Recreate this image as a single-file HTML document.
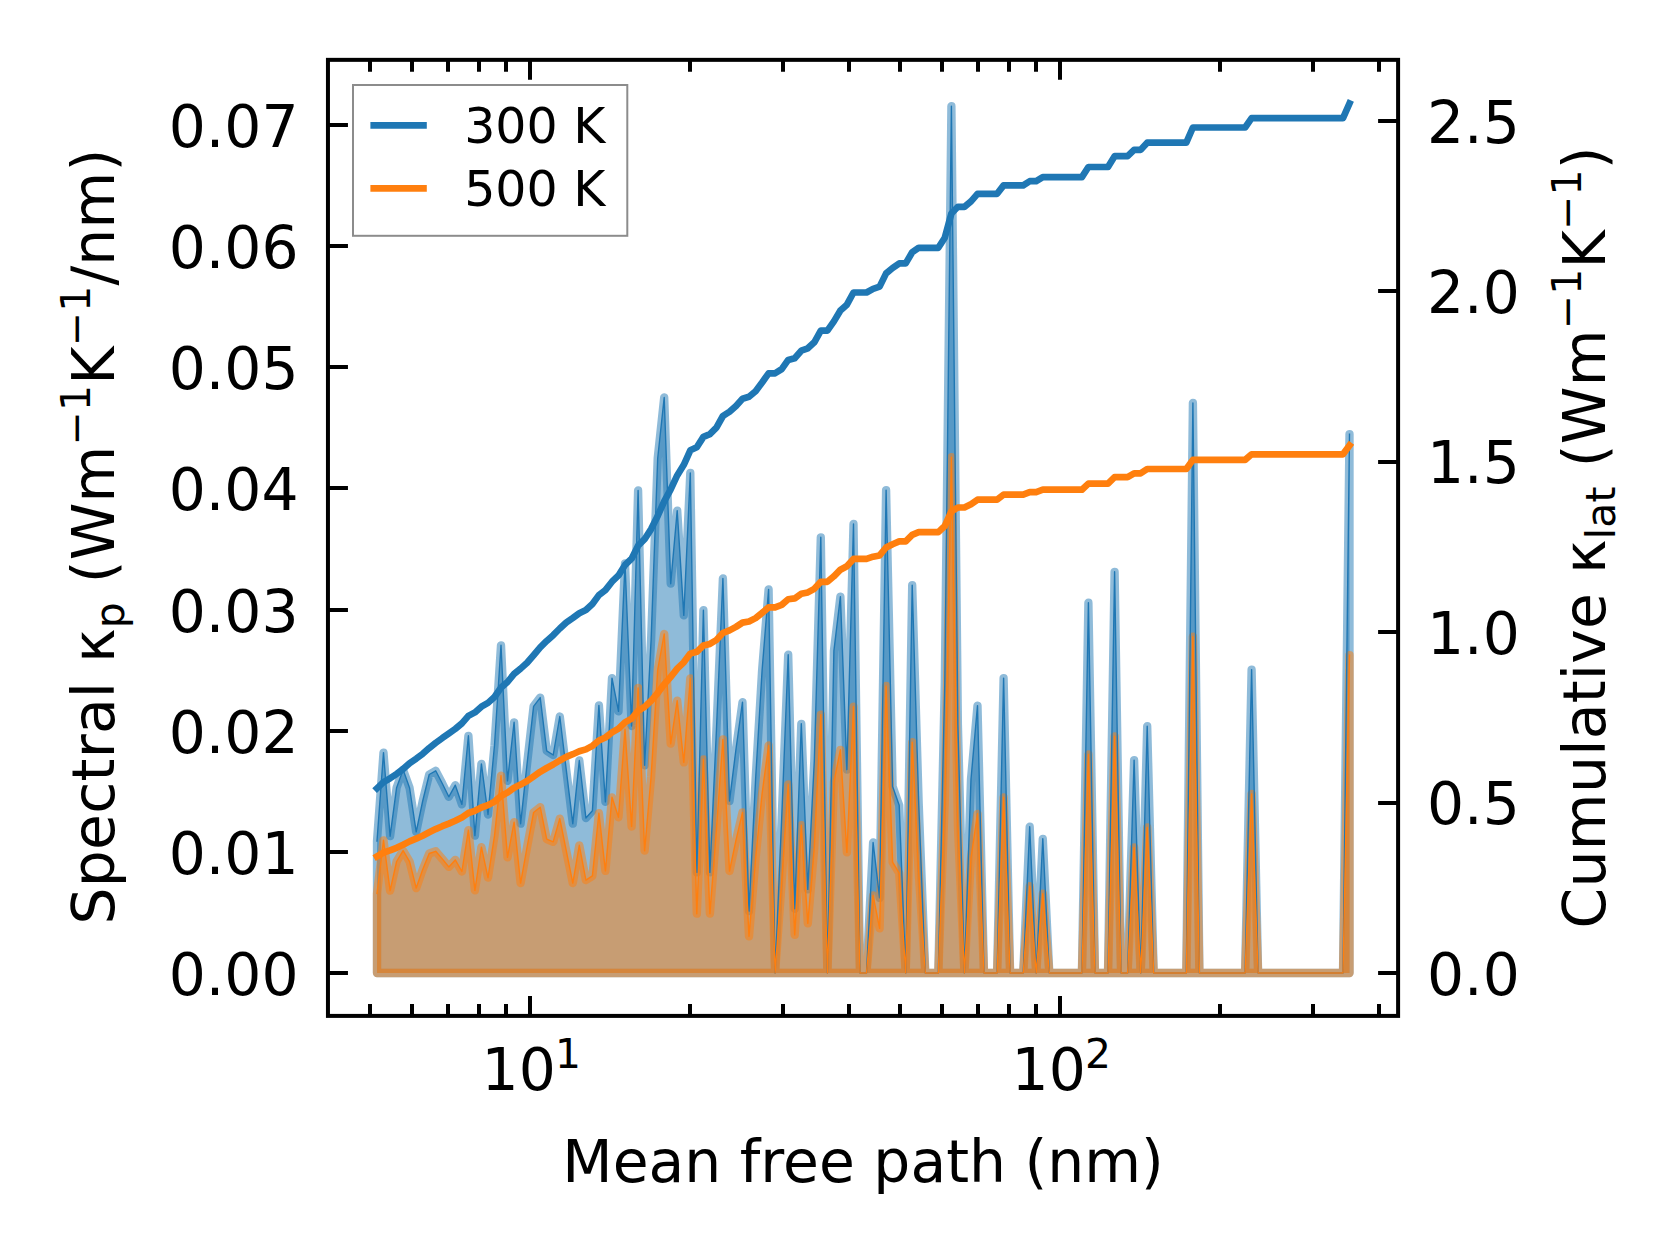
<!DOCTYPE html>
<html lang="en"><head><meta charset="utf-8"><title>Spectral and cumulative thermal conductivity</title>
<style>html,body{margin:0;padding:0;background:#fff}body{width:1679px;height:1254px;overflow:hidden}</style></head>
<body>
<svg width="1679" height="1254" viewBox="0 0 1679 1254" style="display:block">
<rect width="1679" height="1254" fill="#fff"/>
<clipPath id="ax"><rect x="327.95" y="59.85" width="1070.15" height="956.05"/></clipPath>
<g clip-path="url(#ax)">
<path d="M377.0 973.0 L377.0 841.0 L383.5 752.6 L390.1 836.2 L396.6 787.7 L403.1 769.8 L409.6 788.0 L416.2 831.9 L422.7 801.0 L429.2 774.5 L435.7 770.8 L442.3 783.5 L448.8 796.8 L455.3 785.2 L461.9 804.4 L468.4 735.8 L474.9 835.6 L481.4 763.9 L488.0 814.5 L494.5 745.3 L501.0 645.3 L507.5 780.9 L514.1 722.3 L520.6 823.7 L527.1 763.7 L533.6 706.3 L540.2 697.6 L546.7 750.8 L553.2 755.0 L559.8 716.5 L566.3 770.2 L572.8 823.7 L579.3 760.5 L585.9 818.0 L592.4 810.7 L598.9 705.4 L605.4 801.9 L612.0 678.1 L618.5 711.4 L625.0 563.3 L631.6 726.0 L638.1 490.5 L644.6 765.3 L651.1 640.0 L657.7 458.3 L664.2 397.5 L670.7 583.7 L677.2 510.6 L683.8 615.4 L690.3 472.9 L696.8 872.4 L703.4 610.2 L709.9 872.4 L716.4 730.8 L722.9 578.5 L729.5 801.0 L736.0 749.0 L742.5 702.2 L749.0 911.1 L755.6 779.2 L762.1 670.2 L768.6 589.4 L775.1 973.0 L781.7 818.0 L788.2 654.7 L794.7 908.8 L801.3 723.8 L807.8 889.4 L814.3 761.1 L820.8 537.3 L827.4 973.0 L833.9 650.9 L840.4 596.6 L846.9 769.6 L853.5 524.0 L860.0 973.0 L866.5 973.0 L873.1 842.5 L879.6 897.9 L886.1 490.1 L892.6 786.5 L899.2 805.3 L905.7 973.0 L912.2 585.1 L918.7 803.5 L925.3 973.0 L931.8 973.0 L938.3 973.0 L944.8 682.4 L951.4 106.2 L957.9 724.7 L964.4 973.0 L971.0 779.2 L977.5 705.6 L984.0 973.0 L990.5 973.0 L997.1 973.0 L1003.6 678.1 L1010.1 973.0 L1016.6 973.0 L1023.2 973.0 L1029.7 826.7 L1036.2 973.0 L1042.8 838.8 L1049.3 973.0 L1055.8 973.0 L1062.3 973.0 L1068.9 973.0 L1075.4 973.0 L1081.9 973.0 L1088.4 602.7 L1095.0 973.0 L1101.5 973.0 L1108.0 973.0 L1114.6 571.8 L1121.1 973.0 L1127.6 973.0 L1134.1 760.1 L1140.7 973.0 L1147.2 726.2 L1153.7 973.0 L1160.2 973.0 L1166.8 973.0 L1173.3 973.0 L1179.8 973.0 L1186.3 973.0 L1192.9 402.9 L1199.4 973.0 L1205.9 973.0 L1212.5 973.0 L1219.0 973.0 L1225.5 973.0 L1232.0 973.0 L1238.6 973.0 L1245.1 973.0 L1251.6 669.6 L1258.1 973.0 L1264.7 973.0 L1271.2 973.0 L1277.7 973.0 L1284.3 973.0 L1290.8 973.0 L1297.3 973.0 L1303.8 973.0 L1310.4 973.0 L1316.9 973.0 L1323.4 973.0 L1329.9 973.0 L1336.5 973.0 L1343.0 973.0 L1349.5 434.1 L1349.5 973.0 Z" fill="#1f77b4" fill-opacity="0.5" stroke="#1f77b4" stroke-opacity="0.5" stroke-width="8.33" stroke-linejoin="round"/>
<path d="M377.0 973.0 L377.0 893.5 L383.5 840.3 L390.1 890.6 L396.6 861.5 L403.1 850.7 L409.6 861.6 L416.2 888.1 L422.7 869.5 L429.2 853.5 L435.7 851.3 L442.3 858.9 L448.8 866.9 L455.3 859.9 L461.9 871.5 L468.4 830.2 L474.9 890.3 L481.4 847.1 L488.0 877.6 L494.5 835.9 L501.0 775.7 L507.5 857.4 L514.1 822.1 L520.6 883.1 L527.1 847.0 L533.6 812.5 L540.2 807.2 L546.7 839.2 L553.2 841.8 L559.8 818.6 L566.3 850.9 L572.8 883.1 L579.3 845.3 L585.9 880.1 L592.4 875.9 L598.9 813.2 L605.4 870.9 L612.0 797.3 L618.5 817.2 L625.0 729.2 L631.6 826.5 L638.1 687.9 L644.6 850.7 L651.1 776.8 L657.7 669.9 L664.2 634.0 L670.7 743.7 L677.2 700.7 L683.8 762.4 L690.3 678.4 L696.8 913.7 L703.4 759.3 L709.9 913.6 L716.4 829.9 L722.9 739.4 L729.5 871.0 L736.0 840.1 L742.5 812.4 L749.0 936.3 L755.6 858.1 L762.1 793.5 L768.6 745.5 L775.1 973.0 L781.7 881.1 L788.2 784.3 L794.7 934.9 L801.3 825.2 L807.8 923.4 L814.3 847.3 L820.8 714.6 L827.4 973.0 L833.9 782.0 L840.4 749.8 L846.9 852.4 L853.5 706.7 L860.0 973.0 L866.5 973.0 L873.1 895.5 L879.6 928.4 L886.1 686.0 L892.6 862.1 L899.2 873.2 L905.7 973.0 L912.2 742.2 L918.7 872.1 L925.3 973.0 L931.8 973.0 L938.3 973.0 L944.8 800.1 L951.4 457.2 L957.9 825.3 L964.4 973.0 L971.0 857.7 L977.5 813.8 L984.0 973.0 L990.5 973.0 L997.1 973.0 L1003.6 797.3 L1010.1 973.0 L1016.6 973.0 L1023.2 973.0 L1029.7 886.2 L1036.2 973.0 L1042.8 893.6 L1049.3 973.0 L1055.8 973.0 L1062.3 973.0 L1068.9 973.0 L1075.4 973.0 L1081.9 973.0 L1088.4 754.5 L1095.0 973.0 L1101.5 973.0 L1108.0 973.0 L1114.6 736.3 L1121.1 973.0 L1127.6 973.0 L1134.1 847.4 L1140.7 973.0 L1147.2 827.4 L1153.7 973.0 L1160.2 973.0 L1166.8 973.0 L1173.3 973.0 L1179.8 973.0 L1186.3 973.0 L1192.9 636.6 L1199.4 973.0 L1205.9 973.0 L1212.5 973.0 L1219.0 973.0 L1225.5 973.0 L1232.0 973.0 L1238.6 973.0 L1245.1 973.0 L1251.6 794.0 L1258.1 973.0 L1264.7 973.0 L1271.2 973.0 L1277.7 973.0 L1284.3 973.0 L1290.8 973.0 L1297.3 973.0 L1303.8 973.0 L1310.4 973.0 L1316.9 973.0 L1323.4 973.0 L1329.9 973.0 L1336.5 973.0 L1343.0 973.0 L1349.5 655.1 L1349.5 973.0 Z" fill="#ff7f0e" fill-opacity="0.5" stroke="#ff7f0e" stroke-opacity="0.5" stroke-width="8.33" stroke-linejoin="round"/>
<path d="M377.0 841.0 L383.5 752.6 L390.1 836.2 L396.6 787.7 L403.1 769.8 L409.6 788.0 L416.2 831.9 L422.7 801.0 L429.2 774.5 L435.7 770.8 L442.3 783.5 L448.8 796.8 L455.3 785.2 L461.9 804.4 L468.4 735.8 L474.9 835.6 L481.4 763.9 L488.0 814.5 L494.5 745.3 L501.0 645.3 L507.5 780.9 L514.1 722.3 L520.6 823.7 L527.1 763.7 L533.6 706.3 L540.2 697.6 L546.7 750.8 L553.2 755.0 L559.8 716.5 L566.3 770.2 L572.8 823.7 L579.3 760.5 L585.9 818.0 L592.4 810.7 L598.9 705.4 L605.4 801.9 L612.0 678.1 L618.5 711.4 L625.0 563.3 L631.6 726.0 L638.1 490.5 L644.6 765.3 L651.1 640.0 L657.7 458.3 L664.2 397.5 L670.7 583.7 L677.2 510.6 L683.8 615.4 L690.3 472.9 L696.8 872.4 L703.4 610.2 L709.9 872.4 L716.4 730.8 L722.9 578.5 L729.5 801.0 L736.0 749.0 L742.5 702.2 L749.0 911.1 L755.6 779.2 L762.1 670.2 L768.6 589.4 L775.1 973.0 L781.7 818.0 L788.2 654.7 L794.7 908.8 L801.3 723.8 L807.8 889.4 L814.3 761.1 L820.8 537.3 L827.4 973.0 L833.9 650.9 L840.4 596.6 L846.9 769.6 L853.5 524.0 L860.0 973.0 L866.5 973.0 L873.1 842.5 L879.6 897.9 L886.1 490.1 L892.6 786.5 L899.2 805.3 L905.7 973.0 L912.2 585.1 L918.7 803.5 L925.3 973.0 L931.8 973.0 L938.3 973.0 L944.8 682.4 L951.4 106.2 L957.9 724.7 L964.4 973.0 L971.0 779.2 L977.5 705.6 L984.0 973.0 L990.5 973.0 L997.1 973.0 L1003.6 678.1 L1010.1 973.0 L1016.6 973.0 L1023.2 973.0 L1029.7 826.7 L1036.2 973.0 L1042.8 838.8 L1049.3 973.0 L1055.8 973.0 L1062.3 973.0 L1068.9 973.0 L1075.4 973.0 L1081.9 973.0 L1088.4 602.7 L1095.0 973.0 L1101.5 973.0 L1108.0 973.0 L1114.6 571.8 L1121.1 973.0 L1127.6 973.0 L1134.1 760.1 L1140.7 973.0 L1147.2 726.2 L1153.7 973.0 L1160.2 973.0 L1166.8 973.0 L1173.3 973.0 L1179.8 973.0 L1186.3 973.0 L1192.9 402.9 L1199.4 973.0 L1205.9 973.0 L1212.5 973.0 L1219.0 973.0 L1225.5 973.0 L1232.0 973.0 L1238.6 973.0 L1245.1 973.0 L1251.6 669.6 L1258.1 973.0 L1264.7 973.0 L1271.2 973.0 L1277.7 973.0 L1284.3 973.0 L1290.8 973.0 L1297.3 973.0 L1303.8 973.0 L1310.4 973.0 L1316.9 973.0 L1323.4 973.0 L1329.9 973.0 L1336.5 973.0 L1343.0 973.0 L1349.5 434.1" fill="none" stroke="#1f77b4" stroke-width="1.4" stroke-linejoin="round" stroke-linecap="square"/>
<path d="M377.0 893.5 L383.5 840.3 L390.1 890.6 L396.6 861.5 L403.1 850.7 L409.6 861.6 L416.2 888.1 L422.7 869.5 L429.2 853.5 L435.7 851.3 L442.3 858.9 L448.8 866.9 L455.3 859.9 L461.9 871.5 L468.4 830.2 L474.9 890.3 L481.4 847.1 L488.0 877.6 L494.5 835.9 L501.0 775.7 L507.5 857.4 L514.1 822.1 L520.6 883.1 L527.1 847.0 L533.6 812.5 L540.2 807.2 L546.7 839.2 L553.2 841.8 L559.8 818.6 L566.3 850.9 L572.8 883.1 L579.3 845.3 L585.9 880.1 L592.4 875.9 L598.9 813.2 L605.4 870.9 L612.0 797.3 L618.5 817.2 L625.0 729.2 L631.6 826.5 L638.1 687.9 L644.6 850.7 L651.1 776.8 L657.7 669.9 L664.2 634.0 L670.7 743.7 L677.2 700.7 L683.8 762.4 L690.3 678.4 L696.8 913.7 L703.4 759.3 L709.9 913.6 L716.4 829.9 L722.9 739.4 L729.5 871.0 L736.0 840.1 L742.5 812.4 L749.0 936.3 L755.6 858.1 L762.1 793.5 L768.6 745.5 L775.1 973.0 L781.7 881.1 L788.2 784.3 L794.7 934.9 L801.3 825.2 L807.8 923.4 L814.3 847.3 L820.8 714.6 L827.4 973.0 L833.9 782.0 L840.4 749.8 L846.9 852.4 L853.5 706.7 L860.0 973.0 L866.5 973.0 L873.1 895.5 L879.6 928.4 L886.1 686.0 L892.6 862.1 L899.2 873.2 L905.7 973.0 L912.2 742.2 L918.7 872.1 L925.3 973.0 L931.8 973.0 L938.3 973.0 L944.8 800.1 L951.4 457.2 L957.9 825.3 L964.4 973.0 L971.0 857.7 L977.5 813.8 L984.0 973.0 L990.5 973.0 L997.1 973.0 L1003.6 797.3 L1010.1 973.0 L1016.6 973.0 L1023.2 973.0 L1029.7 886.2 L1036.2 973.0 L1042.8 893.6 L1049.3 973.0 L1055.8 973.0 L1062.3 973.0 L1068.9 973.0 L1075.4 973.0 L1081.9 973.0 L1088.4 754.5 L1095.0 973.0 L1101.5 973.0 L1108.0 973.0 L1114.6 736.3 L1121.1 973.0 L1127.6 973.0 L1134.1 847.4 L1140.7 973.0 L1147.2 827.4 L1153.7 973.0 L1160.2 973.0 L1166.8 973.0 L1173.3 973.0 L1179.8 973.0 L1186.3 973.0 L1192.9 636.6 L1199.4 973.0 L1205.9 973.0 L1212.5 973.0 L1219.0 973.0 L1225.5 973.0 L1232.0 973.0 L1238.6 973.0 L1245.1 973.0 L1251.6 794.0 L1258.1 973.0 L1264.7 973.0 L1271.2 973.0 L1277.7 973.0 L1284.3 973.0 L1290.8 973.0 L1297.3 973.0 L1303.8 973.0 L1310.4 973.0 L1316.9 973.0 L1323.4 973.0 L1329.9 973.0 L1336.5 973.0 L1343.0 973.0 L1349.5 655.1" fill="none" stroke="#ff7f0e" stroke-width="1.4" stroke-linejoin="round" stroke-linecap="square"/>
<path d="M377.0 788.3 L383.5 782.1 L390.1 778.3 L396.6 773.9 L403.1 769.0 L409.6 763.2 L416.2 758.7 L422.7 753.8 L429.2 748.1 L435.7 742.9 L442.3 738.1 L448.8 733.6 L455.3 728.9 L461.9 723.4 L468.4 715.9 L474.9 712.4 L481.4 706.7 L488.0 702.9 L494.5 697.0 L501.0 687.6 L507.5 682.0 L514.1 673.9 L520.6 668.6 L527.1 662.7 L533.6 655.2 L540.2 647.3 L546.7 640.9 L553.2 635.2 L559.8 628.5 L566.3 622.5 L572.8 618.0 L579.3 613.2 L585.9 610.0 L592.4 604.0 L598.9 595.1 L605.4 590.1 L612.0 581.7 L618.5 575.4 L625.0 565.0 L631.6 558.7 L638.1 545.7 L644.6 539.2 L651.1 529.1 L657.7 516.0 L664.2 501.3 L670.7 489.4 L677.2 475.4 L683.8 464.8 L690.3 450.3 L696.8 447.3 L703.4 436.9 L709.9 434.2 L716.4 427.6 L722.9 416.0 L729.5 411.7 L736.0 405.9 L742.5 398.7 L749.0 396.8 L755.6 391.2 L762.1 382.5 L768.6 373.3 L775.1 373.3 L781.7 369.1 L788.2 359.9 L794.7 358.2 L801.3 350.7 L807.8 348.3 L814.3 342.3 L820.8 330.6 L827.4 330.6 L833.9 321.4 L840.4 310.5 L846.9 304.7 L853.5 292.5 L860.0 292.5 L866.5 292.5 L873.1 288.8 L879.6 286.6 L886.1 273.4 L892.6 268.0 L899.2 263.4 L905.7 263.4 L912.2 252.3 L918.7 247.8 L925.3 247.8 L931.8 247.8 L938.3 247.8 L944.8 237.7 L951.4 213.5 L957.9 206.8 L964.4 206.8 L971.0 201.4 L977.5 193.8 L984.0 193.8 L990.5 193.8 L997.1 193.8 L1003.6 185.4 L1010.1 185.4 L1016.6 185.4 L1023.2 185.4 L1029.7 181.2 L1036.2 181.2 L1042.8 177.1 L1049.3 177.1 L1055.8 177.1 L1062.3 177.1 L1068.9 177.1 L1075.4 177.1 L1081.9 177.1 L1088.4 167.0 L1095.0 167.0 L1101.5 167.0 L1108.0 167.0 L1114.6 156.2 L1121.1 156.2 L1127.6 156.2 L1134.1 149.8 L1140.7 149.8 L1147.2 142.7 L1153.7 142.7 L1160.2 142.7 L1166.8 142.7 L1173.3 142.7 L1179.8 142.7 L1186.3 142.7 L1192.9 127.5 L1199.4 127.5 L1205.9 127.5 L1212.5 127.5 L1219.0 127.5 L1225.5 127.5 L1232.0 127.5 L1238.6 127.5 L1245.1 127.5 L1251.6 118.2 L1258.1 118.2 L1264.7 118.2 L1271.2 118.2 L1277.7 118.2 L1284.3 118.2 L1290.8 118.2 L1297.3 118.2 L1303.8 118.2 L1310.4 118.2 L1316.9 118.2 L1323.4 118.2 L1329.9 118.2 L1336.5 118.2 L1343.0 118.2 L1349.5 103.4" fill="none" stroke="#1f77b4" stroke-width="6.67" stroke-linejoin="round" stroke-linecap="square"/>
<path d="M377.0 856.4 L383.5 852.7 L390.1 850.4 L396.6 847.8 L403.1 844.8 L409.6 841.4 L416.2 838.6 L422.7 835.7 L429.2 832.3 L435.7 829.1 L442.3 826.2 L448.8 823.6 L455.3 820.7 L461.9 817.4 L468.4 813.0 L474.9 810.8 L481.4 807.5 L488.0 805.1 L494.5 801.6 L501.0 796.0 L507.5 792.6 L514.1 787.7 L520.6 784.6 L527.1 781.0 L533.6 776.5 L540.2 771.8 L546.7 768.0 L553.2 764.5 L559.8 760.5 L566.3 756.9 L572.8 754.2 L579.3 751.3 L585.9 749.4 L592.4 745.8 L598.9 740.5 L605.4 737.5 L612.0 732.4 L618.5 728.7 L625.0 722.4 L631.6 718.6 L638.1 710.8 L644.6 706.9 L651.1 700.8 L657.7 693.0 L664.2 684.2 L670.7 677.0 L677.2 668.6 L683.8 662.3 L690.3 653.6 L696.8 651.8 L703.4 645.5 L709.9 643.9 L716.4 640.0 L722.9 633.0 L729.5 630.4 L736.0 626.9 L742.5 622.6 L749.0 621.5 L755.6 618.1 L762.1 612.9 L768.6 607.4 L775.1 607.4 L781.7 604.9 L788.2 599.3 L794.7 598.4 L801.3 593.8 L807.8 592.4 L814.3 588.8 L820.8 581.8 L827.4 581.8 L833.9 576.3 L840.4 569.7 L846.9 566.2 L853.5 558.9 L860.0 558.9 L866.5 558.9 L873.1 556.7 L879.6 555.4 L886.1 547.5 L892.6 544.2 L899.2 541.4 L905.7 541.4 L912.2 534.8 L918.7 532.1 L925.3 532.1 L931.8 532.1 L938.3 532.1 L944.8 526.0 L951.4 511.5 L957.9 507.5 L964.4 507.5 L971.0 504.2 L977.5 499.7 L984.0 499.7 L990.5 499.7 L997.1 499.7 L1003.6 494.7 L1010.1 494.7 L1016.6 494.7 L1023.2 494.7 L1029.7 492.1 L1036.2 492.1 L1042.8 489.7 L1049.3 489.7 L1055.8 489.7 L1062.3 489.7 L1068.9 489.7 L1075.4 489.7 L1081.9 489.7 L1088.4 483.6 L1095.0 483.6 L1101.5 483.6 L1108.0 483.6 L1114.6 477.1 L1121.1 477.1 L1127.6 477.1 L1134.1 473.3 L1140.7 473.3 L1147.2 469.0 L1153.7 469.0 L1160.2 469.0 L1166.8 469.0 L1173.3 469.0 L1179.8 469.0 L1186.3 469.0 L1192.9 459.9 L1199.4 459.9 L1205.9 459.9 L1212.5 459.9 L1219.0 459.9 L1225.5 459.9 L1232.0 459.9 L1238.6 459.9 L1245.1 459.9 L1251.6 454.3 L1258.1 454.3 L1264.7 454.3 L1271.2 454.3 L1277.7 454.3 L1284.3 454.3 L1290.8 454.3 L1297.3 454.3 L1303.8 454.3 L1310.4 454.3 L1316.9 454.3 L1323.4 454.3 L1329.9 454.3 L1336.5 454.3 L1343.0 454.3 L1349.5 445.4" fill="none" stroke="#ff7f0e" stroke-width="6.67" stroke-linejoin="round" stroke-linecap="square"/>
</g>
<path d="M530.0 1015.9 v-20.0 M530.0 59.85 v20.0 M1060.0 1015.9 v-20.0 M1060.0 59.85 v20.0 M370.0 1015.9 v-12.0 M370.0 59.85 v12.0 M412.0 1015.9 v-12.0 M412.0 59.85 v12.0 M448.0 1015.9 v-12.0 M448.0 59.85 v12.0 M479.0 1015.9 v-12.0 M479.0 59.85 v12.0 M506.0 1015.9 v-12.0 M506.0 59.85 v12.0 M690.0 1015.9 v-12.0 M690.0 59.85 v12.0 M783.0 1015.9 v-12.0 M783.0 59.85 v12.0 M849.0 1015.9 v-12.0 M849.0 59.85 v12.0 M900.0 1015.9 v-12.0 M900.0 59.85 v12.0 M942.0 1015.9 v-12.0 M942.0 59.85 v12.0 M978.0 1015.9 v-12.0 M978.0 59.85 v12.0 M1009.0 1015.9 v-12.0 M1009.0 59.85 v12.0 M1036.0 1015.9 v-12.0 M1036.0 59.85 v12.0 M1220.0 1015.9 v-12.0 M1220.0 59.85 v12.0 M1313.0 1015.9 v-12.0 M1313.0 59.85 v12.0 M1379.0 1015.9 v-12.0 M1379.0 59.85 v12.0 M327.95 973.0 h20.0 M327.95 852.0 h20.0 M327.95 731.0 h20.0 M327.95 610.0 h20.0 M327.95 488.0 h20.0 M327.95 367.0 h20.0 M327.95 246.0 h20.0 M327.95 125.0 h20.0 M1398.1 973.0 h-20.0 M1398.1 803.0 h-20.0 M1398.1 632.0 h-20.0 M1398.1 462.0 h-20.0 M1398.1 291.0 h-20.0 M1398.1 121.0 h-20.0" stroke="#000" stroke-width="4.0" fill="none"/>
<rect x="327.95" y="59.85" width="1070.15" height="956.05" fill="none" stroke="#000" stroke-width="4.0" stroke-linejoin="miter"/>
<text x="298.6" y="995.0" text-anchor="end" font-family="DejaVu Sans, Liberation Sans, sans-serif" font-size="58.33">0.00</text>
<text x="298.6" y="873.9" text-anchor="end" font-family="DejaVu Sans, Liberation Sans, sans-serif" font-size="58.33">0.01</text>
<text x="298.6" y="752.7" text-anchor="end" font-family="DejaVu Sans, Liberation Sans, sans-serif" font-size="58.33">0.02</text>
<text x="298.6" y="631.6" text-anchor="end" font-family="DejaVu Sans, Liberation Sans, sans-serif" font-size="58.33">0.03</text>
<text x="298.6" y="510.4" text-anchor="end" font-family="DejaVu Sans, Liberation Sans, sans-serif" font-size="58.33">0.04</text>
<text x="298.6" y="389.3" text-anchor="end" font-family="DejaVu Sans, Liberation Sans, sans-serif" font-size="58.33">0.05</text>
<text x="298.6" y="268.2" text-anchor="end" font-family="DejaVu Sans, Liberation Sans, sans-serif" font-size="58.33">0.06</text>
<text x="298.6" y="147.0" text-anchor="end" font-family="DejaVu Sans, Liberation Sans, sans-serif" font-size="58.33">0.07</text>
<text x="1427" y="994.6" font-family="DejaVu Sans, Liberation Sans, sans-serif" font-size="58.33">0.0</text>
<text x="1427" y="824.2" font-family="DejaVu Sans, Liberation Sans, sans-serif" font-size="58.33">0.5</text>
<text x="1427" y="653.8" font-family="DejaVu Sans, Liberation Sans, sans-serif" font-size="58.33">1.0</text>
<text x="1427" y="483.4" font-family="DejaVu Sans, Liberation Sans, sans-serif" font-size="58.33">1.5</text>
<text x="1427" y="313.0" font-family="DejaVu Sans, Liberation Sans, sans-serif" font-size="58.33">2.0</text>
<text x="1427" y="142.6" font-family="DejaVu Sans, Liberation Sans, sans-serif" font-size="58.33">2.5</text>
<text x="481.6" y="1090.3" font-family="DejaVu Sans, Liberation Sans, sans-serif" font-size="58.33">10<tspan dx="-0.8" dy="-22.6" font-size="40.83">1</tspan></text>
<text x="1011.6" y="1090.3" font-family="DejaVu Sans, Liberation Sans, sans-serif" font-size="58.33">10<tspan dx="-0.8" dy="-22.6" font-size="40.83">2</tspan></text>
<text x="863.1" y="1181.7" text-anchor="middle" font-family="DejaVu Sans, Liberation Sans, sans-serif" font-size="58.33">Mean free path (nm)</text>
<text transform="translate(113.7 536.4) rotate(-90)" text-anchor="middle" letter-spacing="0.24" font-family="DejaVu Sans, Liberation Sans, sans-serif" font-size="58.33">Spectral κ<tspan dy="10" font-size="40.83">p</tspan><tspan dy="-10"> (Wm</tspan><tspan dy="-23.9" font-size="40.83">−1</tspan><tspan dy="23.9">K</tspan><tspan dy="-23.9" font-size="40.83">−1</tspan><tspan dy="23.9">/nm)</tspan></text>
<text transform="translate(1604.9 537.3) rotate(-90)" text-anchor="middle" letter-spacing="0.27" font-family="DejaVu Sans, Liberation Sans, sans-serif" font-size="58.33">Cumulative κ<tspan dy="10" font-size="40.83">lat</tspan><tspan dy="-10"> (Wm</tspan><tspan dy="-23.9" font-size="40.83">−1</tspan><tspan dy="23.9">K</tspan><tspan dy="-23.9" font-size="40.83">−1</tspan><tspan dy="23.9">)</tspan></text>
<rect x="353.0" y="85.0" width="274.3" height="150.8" fill="#fff" fill-opacity="0.8" stroke="#8c8c8c" stroke-width="2.0"/>
<path d="M370.4 125.4 h56.4" stroke="#1f77b4" stroke-width="6.7" fill="none"/>
<path d="M370.4 188.3 h56.4" stroke="#ff7f0e" stroke-width="6.7" fill="none"/>
<text x="464.2" y="142.9" font-family="DejaVu Sans, Liberation Sans, sans-serif" font-size="49">300 K</text>
<text x="464.2" y="205.8" font-family="DejaVu Sans, Liberation Sans, sans-serif" font-size="49">500 K</text>
</svg>
</body></html>
